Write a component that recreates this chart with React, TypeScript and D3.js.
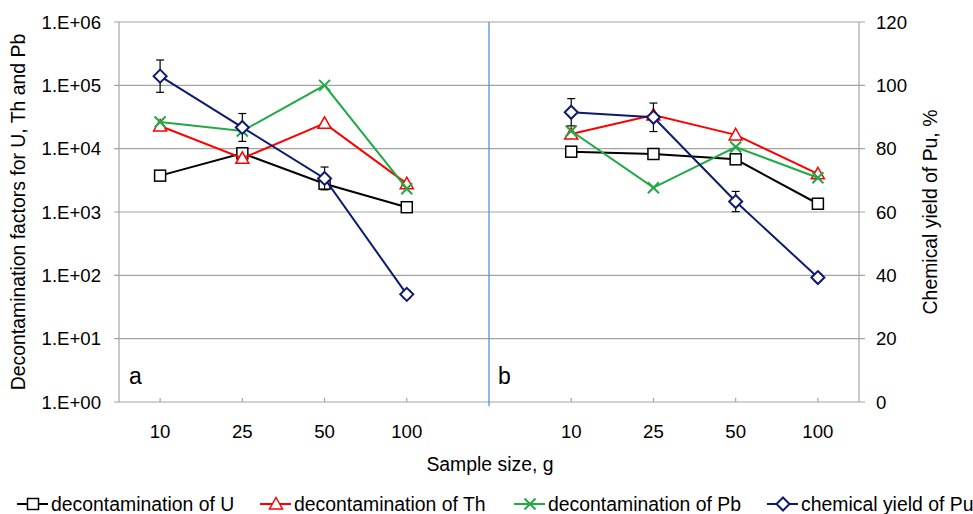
import React from "react";
import * as d3 from "d3";

const categories = ["10", "25", "50", "100", "", "10", "25", "50", "100"];
const slotKeys = ["a10", "a25", "a50", "a100", "gap", "b10", "b25", "b50", "b100"];

// Panel a and b values (left log axis)
const uValues = [3750, 8450, 2800, 1190, null, 8960, 8240, 6790, 1350];
const thValues = [22800, 7050, 25100, 2800, null, 17000, 34000, 16500, 4000];
const pbValues = [26300, 19000, 100000, 2330, null, 19000, 2420, 10600, 3470];
// Chemical yield of Pu (right linear axis, %)
const puValues = [102.9, 86.7, 70.6, 34.0, null, 91.5, 89.9, 63.3, 39.3];
const puErrors = [5.1, 4.4, 3.6, 1.2, null, 4.3, 4.5, 3.2, 1.2];

const leftTicks = [1, 10, 100, 1000, 10000, 100000, 1000000];
const leftTickLabels = ["1.E+00", "1.E+01", "1.E+02", "1.E+03", "1.E+04", "1.E+05", "1.E+06"];
const rightTicks = [0, 20, 40, 60, 80, 100, 120];

const legendItems = [
  { label: "decontamination of U", color: "#000000", marker: "square" },
  { label: "decontamination of Th", color: "#ff0000", marker: "triangle" },
  { label: "decontamination of Pb", color: "#1faa45", marker: "x" },
  { label: "chemical yield of Pu", color: "#0d1a6e", marker: "diamond" },
];

const W = 973;
const H = 514;
const plotL = 119;
const plotR = 859;
const plotT = 22;
const plotB = 402;
const FONT = "'Liberation Sans', Arial, sans-serif";
const TICK_FS = 18.6;
const TEXT_FS = 19.4;

function Marker({ type, x, y, color }: { type: string; x: number; y: number; color: string }) {
  if (type === "square") {
    return <rect x={x - 5.5} y={y - 5.5} width={11} height={11} fill="#fff" stroke={color} strokeWidth={1.5} />;
  }
  if (type === "triangle") {
    return (
      <path d={`M${x},${y - 6.5} L${x + 6.5},${y + 5} L${x - 6.5},${y + 5} Z`} fill="#fff" stroke={color} strokeWidth={1.5} />
    );
  }
  if (type === "x") {
    return (
      <path d={`M${x - 5.5},${y - 5.5} L${x + 5.5},${y + 5.5} M${x + 5.5},${y - 5.5} L${x - 5.5},${y + 5.5}`} stroke={color} strokeWidth={2} fill="none" />
    );
  }
  return (
    <path d={`M${x},${y - 6.5} L${x + 6.5},${y} L${x},${y + 6.5} L${x - 6.5},${y} Z`} fill="#fff" stroke={color} strokeWidth={2} />
  );
}

export default function App() {
  const x = d3.scaleBand<string>().domain(slotKeys).range([plotL, plotR]).paddingInner(0).paddingOuter(0);
  const cx = (i: number) => (x(slotKeys[i]) as number) + x.bandwidth() / 2;
  const yL = d3.scaleLog().domain([1, 1e6]).range([plotB, plotT]);
  const yR = d3.scaleLinear().domain([0, 120]).range([plotB, plotT]);

  const leftSeries = [
    { values: uValues, color: legendItems[0].color, marker: "square" },
    { values: thValues, color: legendItems[1].color, marker: "triangle" },
    { values: pbValues, color: legendItems[2].color, marker: "x" },
  ];

  const panels = [
    [0, 1, 2, 3],
    [5, 6, 7, 8],
  ];

  const lineGen = (scale: (v: number) => number) =>
    d3
      .line<{ i: number; v: number }>()
      .x((d) => cx(d.i))
      .y((d) => scale(d.v));

  const gridColor = "#a3a3a3";
  const legendX = [17, 260, 514, 767];

  return (
    <svg width={W} height={H} style={{ position: "absolute", left: 0, top: 0, background: "#fff" }} fontFamily={FONT}>
      {/* gridlines */}
      {leftTicks.map((t, k) => (
        <g key={"g" + k}>
          <line x1={plotL - 5} x2={plotR + 6} y1={yL(t)} y2={yL(t)} stroke={gridColor} strokeWidth={1.2} />
          <text x={101} y={yL(t)} dy="0.35em" textAnchor="end" fontSize={TICK_FS} fill="#000">
            {leftTickLabels[k]}
          </text>
        </g>
      ))}
      {rightTicks.map((t, k) => (
        <text key={"r" + k} x={876} y={yR(t)} dy="0.35em" textAnchor="start" fontSize={TICK_FS} fill="#000">
          {t}
        </text>
      ))}
      {/* axes */}
      <line x1={plotL} x2={plotL} y1={plotT} y2={plotB} stroke={gridColor} strokeWidth={1.2} />
      <line x1={plotR} x2={plotR} y1={plotT} y2={plotB} stroke={gridColor} strokeWidth={1.2} />
      {slotKeys.map((k, i) =>
        k === "gap" ? null : (
          <g key={"xt" + i}>
            <line x1={cx(i)} x2={cx(i)} y1={plotB - 4} y2={plotB} stroke={gridColor} strokeWidth={1.2} />
            <text x={cx(i)} y={431} dy="0.35em" textAnchor="middle" fontSize={TICK_FS} fill="#000">
              {categories[i]}
            </text>
          </g>
        )
      )}
      {/* divider */}
      <line x1={cx(4)} x2={cx(4)} y1={plotT} y2={plotB + 4} stroke="#5b8fd6" strokeWidth={1.3} />

      {/* panel labels */}
      <text x={129} y={384} fontSize={23} fill="#000">a</text>
      <text x={498} y={384} fontSize={23} fill="#000">b</text>

      {/* left series */}
      {leftSeries.map((s, si) => (
        <g key={"s" + si}>
          {panels.map((p, pi) => (
            <path
              key={"p" + pi}
              d={lineGen((v) => yL(v))(p.map((i) => ({ i, v: s.values[i] as number }))) || ""}
              fill="none"
              stroke={s.color}
              strokeWidth={2}
            />
          ))}
          {s.values.map((v, i) => (v == null ? null : <Marker key={i} type={s.marker} x={cx(i)} y={yL(v)} color={s.color} />))}
        </g>
      ))}

      {/* Pu series on right axis */}
      <g>
        {panels.map((p, pi) => (
          <path
            key={"pu" + pi}
            d={lineGen((v) => yR(v))(p.map((i) => ({ i, v: puValues[i] as number }))) || ""}
            fill="none"
            stroke={legendItems[3].color}
            strokeWidth={2}
          />
        ))}
        {puValues.map((v, i) => {
          if (v == null) return null;
          const e = puErrors[i] as number;
          const y1 = yR(v + e);
          const y2 = yR(v - e);
          return (
            <g key={"eb" + i}>
              <line x1={cx(i)} x2={cx(i)} y1={y1} y2={y2} stroke="#000" strokeWidth={1.2} />
              <line x1={cx(i) - 4} x2={cx(i) + 4} y1={y1} y2={y1} stroke="#000" strokeWidth={1.2} />
              <line x1={cx(i) - 4} x2={cx(i) + 4} y1={y2} y2={y2} stroke="#000" strokeWidth={1.2} />
            </g>
          );
        })}
        {puValues.map((v, i) => (v == null ? null : <Marker key={"m" + i} type="diamond" x={cx(i)} y={yR(v)} color={legendItems[3].color} />))}
      </g>

      {/* axis titles */}
      <text
        transform={`translate(18,${(plotT + plotB) / 2}) rotate(-90)`}
        textAnchor="middle"
        dy="0.35em"
        fontSize={TEXT_FS}
        fill="#000"
      >
        Decontamination factors for U, Th and Pb
      </text>
      <text
        transform={`translate(930,${(plotT + plotB) / 2}) rotate(-90)`}
        textAnchor="middle"
        dy="0.35em"
        fontSize={TEXT_FS}
        fill="#000"
      >
        Chemical yield of Pu, %
      </text>
      <text x={490} y={464} dy="0.35em" textAnchor="middle" fontSize={TEXT_FS} fill="#000">
        Sample size, g
      </text>

      {/* legend */}
      {legendItems.map((it, k) => {
        const lx = legendX[k];
        const ly = 504;
        return (
          <g key={"lg" + k}>
            <line x1={lx} x2={lx + 31} y1={ly} y2={ly} stroke={it.color} strokeWidth={2} />
            <Marker type={it.marker} x={lx + 16} y={ly} color={it.color} />
            <text x={lx + 34} y={ly} dy="0.35em" fontSize={TEXT_FS} fill="#000">
              {it.label}
            </text>
          </g>
        );
      })}
    </svg>
  );
}
